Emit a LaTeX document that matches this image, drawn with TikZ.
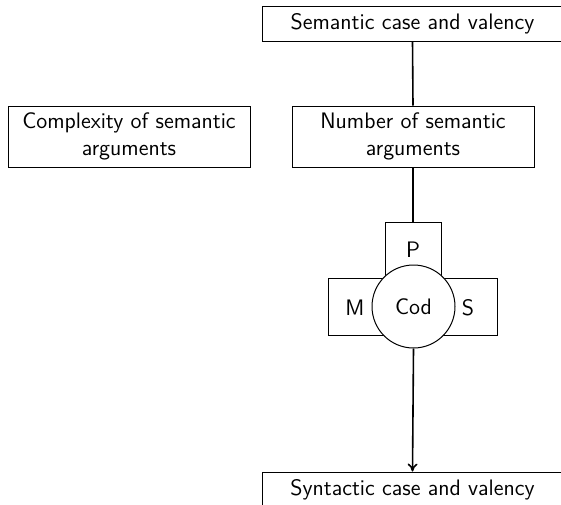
\documentclass[tikz,border=0pt]{standalone}
\usetikzlibrary{arrows.meta}
\begin{document}
\begin{tikzpicture}[x=0.5pt,y=-0.5pt,
  every node/.style={font=\sffamily\fontsize{11.2}{13.2}\selectfont},
  box/.style={draw,line width=0.5pt,rectangle,inner sep=0pt,align=center},
  wide/.style={box,minimum width=150pt,minimum height=17.5pt},
  mid/.style={box,minimum width=121pt,minimum height=30.5pt},
  arm/.style={draw,line width=0.5pt,rectangle,inner sep=0pt},
  link/.style={line width=0.8pt}]
\useasboundingbox (0,0) rectangle (561,504);

% input, intermediate and output boxes
\node[wide] (top) at (412.5,23.5) {Semantic case and valency};
\node[mid] (num) at (413,136.5) {Number of semantic\\arguments};
\node[mid] (cplx) at (129,136.5) {Complexity of semantic\\arguments};
\node[wide] (syn) at (412.5,489.5) {Syntactic case and valency};

% the three arms around the coder
\node[arm,minimum width=28pt,minimum height=39pt] (parm) at (413,261) {};
\node[arm,minimum width=36pt,minimum height=28.5pt] (marm) at (364,306.5) {};
\node[arm,minimum width=35.5pt,minimum height=28.5pt] (sarm) at (461.5,306.5) {};
\node (plab) at (413,250) {P};
\node (mlab) at (355,308) {M};
\node (slab) at (468,308) {S};

% central coder
\node[draw,circle,fill=white,line width=0.5pt,minimum size=41.5pt,inner sep=0pt] (cod) at (413.5,306.5) {Cod};

% connectors
\draw[link] (top.south) -- (num.north);
\draw[link] (num.south) -- (parm.north);
\draw[link,-{To[length=4pt,width=5pt]}] (cod.south) -- (syn.north);
\end{tikzpicture}
\end{document}
